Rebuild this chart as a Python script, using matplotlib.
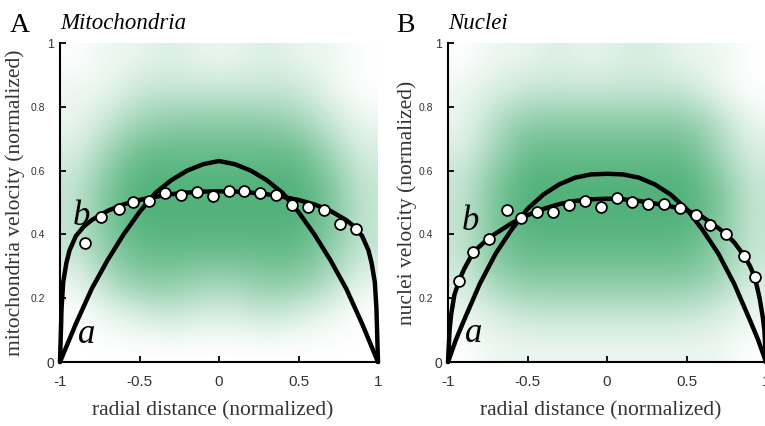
import numpy as np
import matplotlib.pyplot as plt
from matplotlib.colors import LinearSegmentedColormap

# fitted profiles, panel A (mitochondria)
xa_A = [-1, -0.95, -0.9, -0.8, -0.7, -0.6, -0.5, -0.4, -0.3, -0.2, -0.1, 0,
        0.1, 0.2, 0.3, 0.4, 0.5, 0.6, 0.7, 0.8, 0.9, 0.95, 1]
ya_A = [0, 0.06, 0.12, 0.23, 0.32, 0.40, 0.47, 0.53, 0.57, 0.60, 0.62, 0.63,
        0.62, 0.60, 0.57, 0.53, 0.47, 0.40, 0.32, 0.23, 0.12, 0.06, 0]
xb_A = [-1, -0.99, -0.98, -0.96, -0.94, -0.9, -0.85, -0.8, -0.7, -0.6, -0.5, -0.4,
        -0.3, -0.2, -0.1, 0, 0.1, 0.2, 0.3, 0.4, 0.5, 0.6, 0.7, 0.8, 0.85, 0.9,
        0.94, 0.96, 0.98, 0.99, 1]
yb_A = [0, 0.17, 0.25, 0.31, 0.35, 0.395, 0.425, 0.445, 0.474, 0.494, 0.508, 0.518,
        0.526, 0.531, 0.534, 0.535, 0.534, 0.531, 0.526, 0.518, 0.508, 0.494, 0.474,
        0.445, 0.425, 0.395, 0.35, 0.31, 0.25, 0.17, 0]
# binned means (circles), panel A
xm_A = [-0.84, -0.74, -0.63, -0.54, -0.44, -0.34, -0.24, -0.14, -0.04,
        0.06, 0.16, 0.26, 0.36, 0.46, 0.56, 0.66, 0.76, 0.86]
ym_A = [0.373, 0.454, 0.480, 0.502, 0.506, 0.530, 0.523, 0.533, 0.520,
        0.536, 0.536, 0.530, 0.522, 0.491, 0.486, 0.475, 0.434, 0.418]

# panel B (nuclei)
xa_B = xa_A
ya_B = [0, 0.07, 0.13, 0.245, 0.34, 0.415, 0.48, 0.525, 0.557, 0.578, 0.588, 0.59,
        0.588, 0.578, 0.557, 0.525, 0.48, 0.415, 0.34, 0.245, 0.13, 0.07, 0]
xb_B = [-1, -0.99, -0.98, -0.96, -0.93, -0.9, -0.84, -0.74, -0.6, -0.5, -0.4, -0.3,
        -0.2, -0.1, 0, 0.1, 0.2, 0.3, 0.4, 0.5, 0.6, 0.7, 0.75, 0.8, 0.86, 0.9,
        0.93, 0.96, 0.98, 0.99, 1]
yb_B = [0, 0.1, 0.15, 0.21, 0.255, 0.29, 0.345, 0.39, 0.435, 0.46, 0.48, 0.495,
        0.505, 0.51, 0.512, 0.51, 0.505, 0.497, 0.488, 0.476, 0.455, 0.42, 0.40,
        0.375, 0.335, 0.30, 0.265, 0.2, 0.14, 0.1, 0]
xm_B = [-0.93, -0.84, -0.74, -0.63, -0.54, -0.44, -0.34, -0.24, -0.14, -0.04,
        0.06, 0.16, 0.26, 0.36, 0.46, 0.56, 0.65, 0.75, 0.86, 0.93]
ym_B = [0.253, 0.345, 0.387, 0.475, 0.452, 0.470, 0.471, 0.491, 0.506, 0.485,
        0.513, 0.502, 0.494, 0.494, 0.483, 0.462, 0.431, 0.400, 0.331, 0.265]

# density of the raw scatter (estimated by eye, 0-9), rows y=0.95 .. 0.05,
# cols x=-0.9 .. 0.9
dens_A = [[0, 1, 1, 2, 1, 1, 2, 1, 1, 0],
          [1, 1, 3, 3, 3, 3, 3, 3, 1, 0],
          [1, 3, 5, 6, 6, 6, 6, 5, 3, 1],
          [2, 5, 8, 8, 8, 8, 8, 8, 5, 2],
          [3, 7, 9, 9, 9, 9, 9, 9, 7, 3],
          [3, 7, 9, 9, 9, 9, 9, 9, 7, 3],
          [3, 6, 8, 8, 8, 8, 8, 8, 6, 3],
          [1, 4, 6, 6, 5, 5, 6, 6, 4, 1],
          [0, 1, 2, 3, 2, 2, 3, 2, 1, 0],
          [0, 0, 0, 0, 0, 0, 0, 0, 0, 0]]
dens_B = [[0, 1, 1, 2, 1, 2, 2, 1, 1, 0],
          [1, 2, 3, 3, 3, 3, 3, 3, 1, 0],
          [1, 4, 6, 6, 6, 6, 6, 6, 4, 1],
          [2, 5, 8, 8, 8, 8, 8, 8, 5, 2],
          [3, 7, 9, 9, 9, 9, 9, 9, 7, 3],
          [3, 7, 9, 9, 9, 9, 9, 9, 7, 3],
          [3, 7, 8, 8, 8, 8, 8, 8, 6, 3],
          [2, 5, 6, 6, 6, 6, 6, 6, 5, 2],
          [1, 2, 3, 3, 3, 3, 3, 3, 2, 1],
          [0, 1, 1, 1, 1, 1, 1, 1, 1, 0]]

xticks = [-1, -0.5, 0, 0.5, 1]
xticklabels = ['-1', '-0.5', '0', '0.5', '1']
yticks = [0, 0.2, 0.4, 0.6, 0.8, 1]
yticklabels = ['0', '0.2', '0.4', '0.6', '0.8', '1']

green = LinearSegmentedColormap.from_list('g', ['white', '#35a564'])
serif = 'Liberation Serif'
sans = 'Liberation Sans'

fig = plt.figure(figsize=(7.65, 4.26), dpi=100)
axA = fig.add_axes([60 / 765, 64 / 426, 318 / 765, 319 / 426])
axB = fig.add_axes([448 / 765, 64 / 426, 318 / 765, 319 / 426])

panels = [(axA, dens_A, xa_A, ya_A, xb_A, yb_A, xm_A, ym_A,
           'mitochondria velocity (normalized)', (-0.918, 0.43), (-0.887, 0.06)),
          (axB, dens_B, xa_B, ya_B, xb_B, yb_B, xm_B, ym_B,
           'nuclei velocity (normalized)', (-0.912, 0.414), (-0.893, 0.064))]

for ax, dens, xa, ya, xb, yb, xm, ym, ylab, bpos, apos in panels:
    ax.imshow(np.array(dens), cmap=green, vmin=0, vmax=10.5, extent=(-1, 1, 0, 1),
              aspect='auto', interpolation='bicubic', zorder=0)
    ax.plot(xa, ya, color='black', lw=3.2, clip_on=False, zorder=3,
            solid_capstyle='round', solid_joinstyle='round')
    ax.plot(xb, yb, color='black', lw=3.2, clip_on=False, zorder=3,
            solid_capstyle='round', solid_joinstyle='round')
    ax.plot(xm, ym, 'o', ms=7.8, mfc='white', mec='black', mew=1.3, zorder=4,
            clip_on=False)
    ax.text(bpos[0], bpos[1], 'b', family=serif, style='italic', fontsize=25,
            va='baseline', ha='left', zorder=5)
    ax.text(apos[0], apos[1], 'a', family=serif, style='italic', fontsize=25,
            va='baseline', ha='left', zorder=5)

    ax.set_xlim(-1, 1)
    ax.set_ylim(0, 1)
    for s in ['top', 'right']:
        ax.spines[s].set_visible(False)
    for s in ['left', 'bottom']:
        ax.spines[s].set_linewidth(1.5)
    ax.tick_params(direction='in', length=4, width=1.3, colors='black')
    ax.set_xticks(xticks)
    ax.set_xticklabels(xticklabels, family=sans, fontsize=11, color='#333333')
    ax.tick_params(axis='x', pad=9)
    ax.set_yticks(yticks)
    ax.set_yticklabels(yticklabels, family=sans, fontsize=7.5, color='#333333')
    yt = ax.yaxis.get_major_ticks()
    for i, t in enumerate(yt):
        if i == 0:
            t.label1.set_fontsize(10)
            t.set_pad(4)
        elif i == len(yt) - 1:
            t.label1.set_fontsize(9)
            t.set_pad(4)
        else:
            t.set_pad(11)

    ax.set_xlabel('radial distance (normalized)', family=serif, fontsize=15.5,
                  color='#333333', va='center')
    ax.xaxis.set_label_coords(0.48, -0.154)
    ax.set_ylabel(ylab, family=serif, fontsize=15.5, color='#333333', va='center')

axA.yaxis.set_label_coords(-0.142, 0.5)
axB.yaxis.set_label_coords(-0.13, 0.5)

fig.text(10 / 765, 1 - 31.5 / 426, 'A', family=serif, fontsize=20, va='baseline')
fig.text(60 / 765, 1 - 29 / 426, 'Mitochondria', family=serif, style='italic',
         fontsize=16.5, va='baseline')
fig.text(396 / 765, 1 - 31.5 / 426, 'B', family=serif, fontsize=20, va='baseline')
fig.text(448 / 765, 1 - 29 / 426, 'Nuclei', family=serif, style='italic',
         fontsize=16.5, va='baseline')

fig.savefig('out.png', dpi=100)
